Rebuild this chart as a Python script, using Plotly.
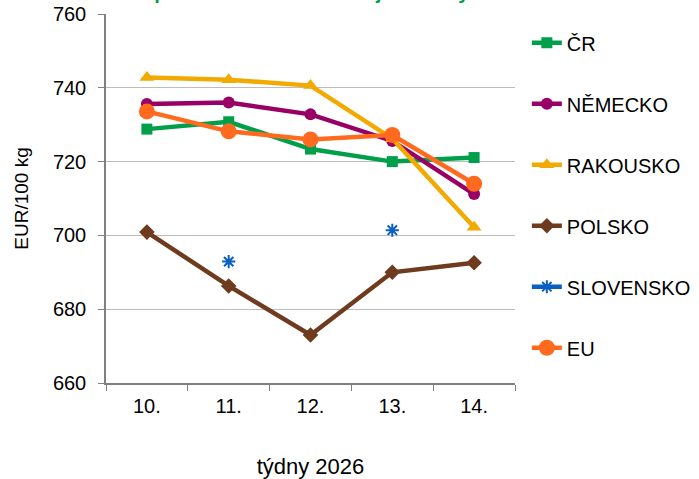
import plotly.graph_objects as go

weeks = ["10.", "11.", "12.", "13.", "14."]
cr = [728.8, 730.8, 723.4, 720.0, 721.1]
nemecko = [735.6, 736.0, 732.8, 725.6, 711.2]
rakousko = [742.8, 742.2, 740.6, 726.2, 702.2]
polsko = [700.9, 686.3, 673.0, 690.0, 692.6]
slovensko = [None, 692.9, None, 701.4, None]
eu = [733.6, 728.2, 726.0, 727.2, 714.0]

series = [
    ("ČR", cr, "#00A04A", "square", 11),
    ("NĚMECKO", nemecko, "#990066", "circle", 12),
    ("RAKOUSKO", rakousko, "#F2A900", "triangle-up", 13),
    ("POLSKO", polsko, "#6E3B1F", "diamond", 12),
    ("SLOVENSKO", slovensko, "#0A5FC4", "asterisk-open", 11),
    ("EU", eu, "#FF6A1F", "circle", 16),
]

FONT = "Liberation Sans, Arial, sans-serif"
fig = go.Figure()
for i, (name, vals, col, sym, sz) in enumerate(series):
    fig.add_trace(go.Scatter(
        x=weeks, y=vals, name=name, mode="lines+markers",
        line=dict(color=col, width=4.5),
        marker=dict(symbol=sym, size=sz, color=col,
                    line=dict(color=col, width=2 if sym == "asterisk-open" else 0)),
        connectgaps=False, legendgroup=f"g{i}",
    ))

fig.update_layout(
    width=699, height=479,
    margin=dict(l=106, r=184, t=14, b=96, autoexpand=False),
    paper_bgcolor="white", plot_bgcolor="white",
    font=dict(family=FONT, size=20, color="black"),
    showlegend=True,
    legend=dict(x=1.029, xanchor="left", y=0.975, yanchor="top",
                font=dict(size=20), tracegroupgap=32, bgcolor="rgba(255,255,255,1)",
                itemwidth=30),
    xaxis=dict(
        type="category", showgrid=False, showline=True, linecolor="#808080", linewidth=1.5,
        ticks="outside", ticklen=6, tickcolor="#808080", tickson="boundaries",
        ticklabelstandoff=4,
        tickfont=dict(size=20), range=[-0.5, 4.5],
        title=dict(text="týdny 2026", font=dict(size=22), standoff=51),
    ),
    yaxis=dict(
        range=[660, 760], dtick=20, showgrid=True, gridcolor="#BDBDBD", gridwidth=1.3,
        showline=True, linecolor="#808080", linewidth=1.5, zeroline=False,
        ticks="outside", ticklen=6, tickcolor="#808080", ticklabelstandoff=8,
        tickfont=dict(size=20),
        title=dict(text="EUR/100 kg", font=dict(size=19), standoff=19),
    ),
    annotations=[dict(
        text="<b>Srovnání cen prasat SEUROP v EU a jednotlivých zemích</b>",
        xref="paper", yref="paper", x=-0.208, y=1, xanchor="left", yanchor="bottom",
        yshift=9, showarrow=False, font=dict(size=20, color="#00A04A", family=FONT),
    )],
)

fig.write_html("out.html", config={"displayModeBar": False},
               post_script="document.body.style.margin='0';")
